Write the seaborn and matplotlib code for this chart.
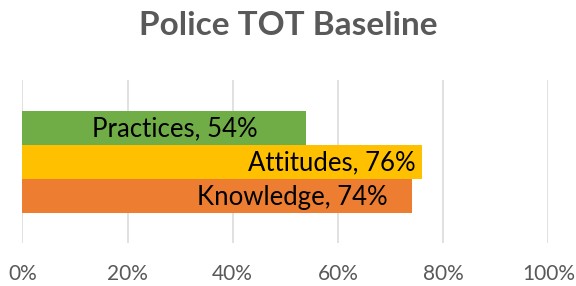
import matplotlib
matplotlib.use("Agg")
import matplotlib.pyplot as plt
import seaborn as sns
import pandas as pd
from matplotlib.ticker import PercentFormatter

categories = ["Practices", "Attitudes", "Knowledge"]
values = [0.54, 0.76, 0.74]
colors = ["#70AD47", "#FFC000", "#ED7D31"]
label_right = [0.448, 0.747, 0.695]
ticks = [0, 0.2, 0.4, 0.6, 0.8, 1.0]

sns.set_theme(style="white")
plt.rcParams["font.family"] = ["Lato", "DejaVu Sans"]

df = pd.DataFrame({"category": categories, "value": values})

fig = plt.figure(figsize=(5.76, 2.86), dpi=100)
ax = fig.add_axes([22.3 / 576, 1 - 243 / 286, (548.3 - 22.3) / 576, (243 - 80) / 286])

sns.barplot(data=df, x="value", y="category", hue="category", palette=colors,
            order=categories, hue_order=categories, width=1.0, legend=False,
            orient="h", ax=ax, saturation=1, linewidth=0)

ax.set_xlim(0, 1)
ax.set_ylim(3.38, -1.41)
ax.set_xticks(ticks)
ax.xaxis.set_major_formatter(PercentFormatter(1.0, decimals=0))
ax.grid(axis="x", color="#D9D9D9", linewidth=1.1)
ax.set_axisbelow(True)
ax.set_yticks([])
ax.set_xlabel("")
ax.set_ylabel("")
for s in ax.spines.values():
    s.set_visible(False)
ax.tick_params(axis="x", length=0, pad=15, labelsize=15, labelcolor="#595959")

for i, (c, v, lx) in enumerate(zip(categories, values, label_right)):
    ax.text(lx, i + 0.03, f"{c}, {int(round(v * 100))}%", ha="right", va="center",
            fontsize=18.5, color="black")

fig.text(0.5, 1 - 35 / 286, "Police TOT Baseline", ha="center", va="baseline",
         fontsize=24, fontweight="bold", color="#595959")

fig.savefig("out.png", dpi=100)
